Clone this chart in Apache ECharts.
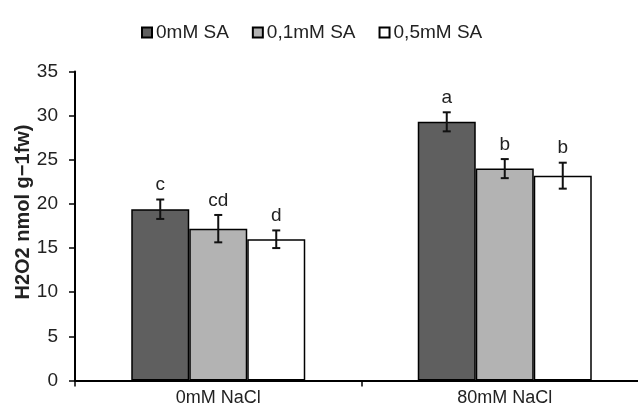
<!DOCTYPE html>
<html>
<head>
<meta charset="utf-8">
<script src="https://cdn.jsdelivr.net/npm/echarts@6/dist/echarts.min.js"></script>
<style>
  html, body { margin: 0; padding: 0; background: #fff; }
  #chart { width: 638px; height: 419px; }
</style>
</head>
<body>
<div id="chart"></div>
<script>
// Salt treatments (x categories) and salicylic acid levels (series)
const categories = ['0mM NaCl', '80mM NaCl'];
const seriesNames = ['0mM SA', '0,1mM SA', '0,5mM SA'];

// H2O2 content per SA level, one value per NaCl treatment
const sa0 = [19.4, 29.3];
const sa01 = [17.2, 24.0];
const sa05 = [16.0, 23.2];

// Standard errors
const sa0Err = [1.1, 1.08];
const sa01Err = [1.55, 1.08];
const sa05Err = [1.0, 1.47];

// Significance letters
const sa0Letters = ['c', 'a'];
const sa01Letters = ['cd', 'b'];
const sa05Letters = ['d', 'b'];

const yTicks = [0, 5, 10, 15, 20, 25, 30, 35];

const values = [sa0, sa01, sa05];
const errors = [sa0Err, sa01Err, sa05Err];
const letters = [sa0Letters, sa01Letters, sa05Letters];
const fills = ['#5f5f5f', '#b3b3b3', '#ffffff'];

const FONT = "'Liberation Sans', Arial, sans-serif";
const BAR_W = 58;

const chart = echarts.init(document.getElementById('chart'), null, { renderer: 'canvas' });

const barSeries = values.map((vals, i) => ({
  name: seriesNames[i],
  type: 'bar',
  barWidth: BAR_W,
  barGap: '0%',
  data: vals,
  itemStyle: { color: fills[i], borderColor: '#000', borderWidth: 1.5 },
  emphasis: { disabled: true },
  z: 2
}));

// Error bars with letters, drawn over each bar
const errSeries = values.map((vals, i) => ({
  type: 'custom',
  name: seriesNames[i] + ' err',
  data: vals.map((v, k) => [k, v, errors[i][k]]),
  z: 5,
  silent: true,
  renderItem: function (params, api) {
    const k = api.value(0);
    const v = api.value(1);
    const e = api.value(2);
    const off = (i - 1) * BAR_W;
    const top = api.coord([k, v + e]);
    const bot = api.coord([k, v - e]);
    const x = top[0] + off;
    const cap = 4;
    const style = { stroke: '#111', lineWidth: 2 };
    return {
      type: 'group',
      children: [
        { type: 'line', shape: { x1: x, y1: top[1], x2: x, y2: bot[1] }, style },
        { type: 'line', shape: { x1: x - cap, y1: top[1], x2: x + cap, y2: top[1] }, style },
        { type: 'line', shape: { x1: x - cap, y1: bot[1], x2: x + cap, y2: bot[1] }, style },
        {
          type: 'text',
          x: x, y: top[1] - 5,
          style: {
            text: letters[i][k], fill: '#222', font: '19px ' + FONT,
            align: 'center', verticalAlign: 'bottom'
          }
        }
      ]
    };
  }
}));

chart.setOption({
  animation: false,
  backgroundColor: '#fff',
  legend: {
    data: seriesNames,
    left: 136,
    top: 18,
    itemWidth: 10,
    itemHeight: 10,
    itemGap: 23,
    icon: 'rect',
    selectedMode: false,
    textStyle: { fontSize: 19, color: '#222', fontFamily: FONT, padding: [0, 0, 0, -1] }
  },
  grid: {
    left: 75,
    right: -10,
    top: 71.5,
    bottom: 38.5,
    containLabel: false,
    outerBoundsMode: 'none'
  },
  xAxis: {
    type: 'category',
    data: categories,
    axisLine: { lineStyle: { color: '#000', width: 2 } },
    axisTick: { show: true, length: 6, lineStyle: { color: '#000', width: 1.5 } },
    axisLabel: { fontSize: 18, color: '#222', fontFamily: FONT, margin: 9 },
    splitLine: { show: false }
  },
  yAxis: {
    type: 'value',
    min: yTicks[0],
    max: yTicks[yTicks.length - 1],
    interval: yTicks[1] - yTicks[0],
    axisLine: { show: true, lineStyle: { color: '#000', width: 2 } },
    axisTick: { show: true, length: 6, lineStyle: { color: '#000', width: 1.5 } },
    axisLabel: { fontSize: 19, color: '#222', fontFamily: FONT, margin: 17 },
    splitLine: { show: false }
  },
  graphic: [{
    type: 'text',
    x: 23,
    y: 212,
    rotation: Math.PI / 2,
    style: {
      text: 'H2O2 nmol g\u22121fw)',
      font: 'bold 20px ' + FONT,
      fill: '#222',
      align: 'center',
      verticalAlign: 'middle'
    }
  }],
  series: barSeries.concat(errSeries)
});
</script>
</body>
</html>
